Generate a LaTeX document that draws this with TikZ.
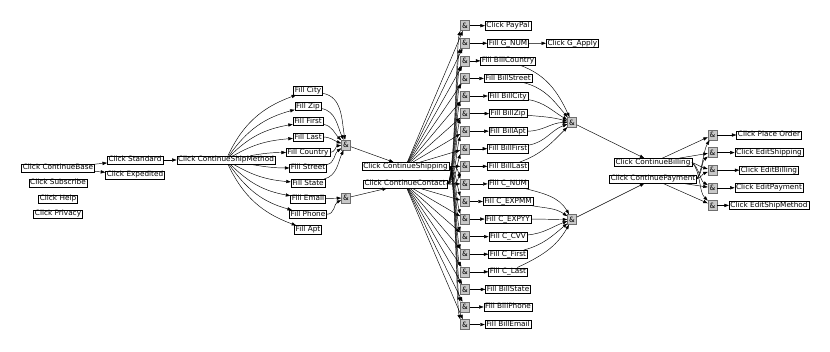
\documentclass[tikz,border=0pt]{standalone}
\usepackage{fontspec}
\setmainfont{DejaVu Sans}
\usetikzlibrary{arrows.meta}
\definecolor{ANDfill}{HTML}{C8C8C8}
\definecolor{ANDedge}{HTML}{6E6E6E}
\begin{document}
\begin{tikzpicture}[x=1pt, y=-1pt,
   act/.style={draw=black, fill=white, line width=0.4pt,
      font=\fontsize{7.3}{8}\selectfont, inner xsep=1.3pt, inner ysep=0.6pt,
      text height=5.5pt, text depth=1.5pt},
   andbox/.style={draw=ANDedge, fill=ANDfill, line width=0.5pt,
      font=\fontsize{7.3}{8}\selectfont, minimum width=9pt, minimum height=10pt, inner sep=0pt},
   flow/.style={-{Triangle[length=4.5pt, width=3.2pt]}, line width=0.45pt}]
   \useasboundingbox (0,0) rectangle (830,352);
   % Start page
   \node[act] (cbase) at (58,168) {Click ContinueBase};
   \node[act] (csub) at (58,183) {Click Subscribe};
   \node[act] (chelp) at (58,199) {Click Help};
   \node[act] (cpriv) at (58,214) {Click Privacy};
   \node[act] (cstd) at (135,160) {Click Standard};
   \node[act] (cexp) at (135,175) {Click Expedited};
   \node[act] (csm) at (226,160) {Click ContinueShipMethod};
   \draw[flow] (cbase) -- (cstd);
   \draw[flow] (cbase) -- (cexp);
   \draw[flow] (cstd) -- (csm);
   % Shipping fields
   \foreach \lbl [count=\i] in {City, Zip, First, Last, Country, Street, State, Email, Phone, Apt}
      \node[act] (f\i) at (308, {90.7+15.45*(\i-1)}) {Fill \lbl};
   \foreach \i/\o/\n in {1/65/200, 2/55/195, 3/45/190, 4/30/185, 5/10/180,
                         6/-10/180, 7/-30/175, 8/-45/170, 9/-55/165, 10/-65/160}
      \draw[flow] (csm) to[out=\o, in=\n] (f\i);
   \node[andbox] (aadr) at (346,145) {\&};
   \node[andbox] (acon) at (346,198) {\&};
   \foreach \i/\o/\n in {1/-10/100, 2/-10/115, 3/-10/135, 4/0/160, 5/0/185, 6/10/215, 7/15/245}
      \draw[flow] (f\i) to[out=\o, in=\n] (aadr);
   \draw[flow] (f8) -- (acon);
   \draw[flow] (f9) to[out=0, in=205] (acon);
   % Continue buttons
   \node[act] (cship) at (405.5,166.5) {Click ContinueShipping};
   \node[act] (ccon) at (405,184) {Click ContinueContact};
   \draw[flow] (aadr) -- (cship);
   \draw[flow] (acon) -- (ccon);
   % Billing and payment fields, each behind an AND gate
   \foreach \lbl [count=\k] in {Click PayPal, Fill G\_NUM, Fill BillCountry, Fill BillStreet,
         Fill BillCity, Fill BillZip, Fill BillApt, Fill BillFirst, Fill BillLast,
         Fill C\_NUM, Fill C\_EXPMM, Fill C\_EXPYY, Fill C\_CVV, Fill C\_First,
         Fill C\_Last, Fill BillState, Fill BillPhone, Fill BillEmail} {
      \node[andbox] (a\k) at (465, {25.7+17.58*(\k-1)}) {\&};
      \node[act] (t\k) at (508, {25.7+17.58*(\k-1)}) {\lbl};
      \draw[flow] (a\k) -- (t\k);
   }
   \foreach \k in {1,...,9} {
      \draw[flow] (cship) -- (a\k);
      \draw[flow] (ccon.east) .. controls +(8,0) and +(-4,14) .. (a\k.south west);
   }
   \foreach \k in {10,...,18} {
      \draw[flow] (ccon) -- (a\k);
      \draw[flow] (cship.east) .. controls +(6,0) and +(-4,-14) .. (a\k.north west);
   }
   \node[act, anchor=west] (gapp) at (546,43.3) {Click G\_Apply};
   \draw[flow] (t2) -- (gapp);
   % Gates before the review page
   \node[andbox] (abill) at (572,122.5) {\&};
   \node[andbox] (apay) at (572,219.5) {\&};
   \foreach \k/\o/\n in {3/-20/115, 4/-15/130, 5/-10/150, 6/-5/165, 7/0/180, 8/10/200, 9/20/225}
      \draw[flow] (t\k) to[out=\o, in=\n] (abill);
   \foreach \k/\o/\n in {10/-15/120, 11/-10/145, 12/0/180, 13/5/200, 14/15/220, 15/25/240}
      \draw[flow] (t\k) to[out=\o, in=\n] (apay);
   \node[act] (cbill) at (653,162.5) {Click ContinueBilling};
   \node[act] (cpay) at (653,179) {Click ContinuePayment};
   \draw[flow] (abill) -- (cbill);
   \draw[flow] (apay) -- (cpay);
   % Review page
   \foreach \lbl [count=\j] in {Click Place Order, Click EditShipping, Click EditBilling,
         Click EditPayment, Click EditShipMethod} {
      \node[andbox] (g\j) at (712.5, {135+17.6*(\j-1)}) {\&};
      \node[act] (r\j) at (769, {135+17.6*(\j-1)}) {\lbl};
      \draw[flow] (g\j) -- (r\j);
   }
   \draw[flow] (cbill) -- (g1);
   \draw[flow] (cbill) -- (g2);
   \draw[flow] (cbill.east) to[out=-20, in=165] (g3);
   \draw[flow] (cbill.east) to[out=-35, in=150, looseness=0.8] (g4);
   \draw[flow] (cbill.east) to[out=-45, in=135, looseness=0.8] (g5);
   \draw[flow] (cpay.east) to[out=60, in=-120, looseness=0.8] (g1);
   \draw[flow] (cpay.east) to[out=45, in=-140, looseness=0.8] (g2);
   \draw[flow] (cpay.east) to[out=20, in=-160] (g3);
   \draw[flow] (cpay) -- (g4);
   \draw[flow] (cpay) -- (g5);
\end{tikzpicture}
\end{document}
